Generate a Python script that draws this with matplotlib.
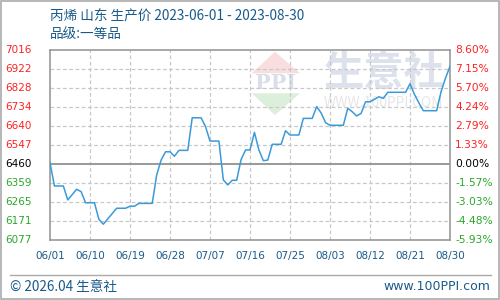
import matplotlib
matplotlib.use("Agg")
import matplotlib.pyplot as plt
import numpy as np
from matplotlib.patches import Polygon, Rectangle
from matplotlib.lines import Line2D

plt.rcParams['font.family'] = ['Noto Sans CJK SC', 'DejaVu Sans']

# ---- data ----
day_offsets = [0, 1, 3, 4, 6, 7, 8, 10, 11, 12, 15, 17, 18, 19, 20, 23, 24, 25, 26, 27,
               28, 29, 31, 32, 34, 35, 36, 38, 39, 40, 41, 42, 43, 44, 45, 46, 47, 48, 49, 50,
               52, 53, 54, 56, 57, 59, 60, 61, 62, 63, 66, 67, 68, 69, 70, 71, 72, 74, 75, 76,
               80, 81, 82, 83, 84, 87, 88, 89, 90]
prices = [6460, 6344, 6344, 6275, 6328, 6316, 6261, 6261, 6179, 6155, 6234, 6234, 6244, 6244,
          6258, 6258, 6398, 6472, 6513, 6513, 6491, 6520, 6520, 6681, 6681, 6637, 6566, 6566,
          6374, 6349, 6372, 6372, 6475, 6522, 6522, 6609, 6522, 6469, 6472, 6550, 6550, 6617,
          6596, 6596, 6678, 6678, 6736, 6705, 6657, 6644, 6644, 6728, 6711, 6690, 6703, 6760,
          6760, 6785, 6777, 6807, 6807, 6849, 6797, 6755, 6716, 6716, 6811, 6878, 6935]
x_tick_days = [0, 9, 18, 27, 36, 45, 54, 63, 72, 81, 90]
x_tick_labels = ["06/01", "06/10", "06/19", "06/28", "07/07", "07/16", "07/25",
                 "08/03", "08/12", "08/21", "08/30"]
y_min, y_max = 6077, 7016
left_labels = ["6077", "6171", "6265", "6359", "6460", "6547", "6640", "6734", "6828", "6922", "7016"]
right_labels = ["-5.93%", "-4.48%", "-3.03%", "-1.57%", "0.00%", "1.33%", "2.79%", "4.24%",
                "5.70%", "7.15%", "8.60%"]
base_index = 4
title = "丙烯 山东 生产价 2023-06-01 - 2023-08-30"
subtitle = "品级:一等品"

RED = "#ff2020"
GREEN = "#2aa82a"
BLUE_TXT = "#1a5a8a"
LINE = "#3a9ad9"

fig = plt.figure(figsize=(5, 3), dpi=100)
fig.patch.set_facecolor("white")
ax = fig.add_axes([0.1, 0.2, 0.8, 0.6333])

# watermark (in axes coords)
wm = dict(transform=ax.transAxes, zorder=0)
def ax_xy(px, py):
    return ((px - 50) / 400.0, (240 - py) / 190.0)
ax.add_patch(Polygon([ax_xy(275, 51.7), ax_xy(251.7, 73.3), ax_xy(300, 73.3)],
                     closed=True, facecolor="#f8dede", edgecolor="none", **wm))
ax.add_patch(Polygon([ax_xy(251.7, 93.3), ax_xy(300, 93.3), ax_xy(275, 115)],
                     closed=True, facecolor="#dcefdc", edgecolor="none", **wm))
ax.text(*ax_xy(275.5, 83), "PPI", ha="center", va="center", fontsize=15, fontweight="bold",
        family="DejaVu Serif", color="#d8deea", **wm)
ax.text(*ax_xy(384, 73), "生意社", ha="center", va="center", fontsize=29, fontweight="bold",
        color="#dde1ec", **wm)
ax.text(*ax_xy(383, 103), "WWW.100PPI.COM", ha="center", va="center", fontsize=10,
        color="#e6e6e6", **wm)

ticks = np.linspace(y_min, y_max, len(left_labels))
ax.plot(day_offsets, prices, color=LINE, lw=1.1, zorder=3)
ax.set_xlim(0, 90)
ax.set_ylim(y_min, y_max)
ax.set_xticks(x_tick_days)
ax.set_yticks(ticks)
for t in x_tick_days[1:-1]:
    ax.axvline(t, color="#c8c8c8", lw=0.9, ls=(0, (3, 2)), zorder=1)
for i, t in enumerate(ticks[1:-1], start=1):
    if i == base_index:
        ax.axhline(t, color="#999999", lw=1.4, zorder=2)
    else:
        ax.axhline(t, color="#c8c8c8", lw=0.9, ls=(0, (3, 2)), zorder=1)
ax.tick_params(length=0, labelleft=False, labelbottom=False)
for s in ax.spines.values():
    s.set_color("#999999")
    s.set_linewidth(1.2)

def col(i):
    if i > base_index:
        return RED
    if i < base_index:
        return GREEN
    return "black"

for i, t in enumerate(ticks):
    yfig = 1 - ((240 - (t - y_min) / (y_max - y_min) * 190) / 300.0)
    fig.text(5 / 500, yfig, left_labels[i], ha="left", va="center", fontsize=7.5,
             family="DejaVu Sans", color=col(i))
    fig.text(455 / 500, yfig, right_labels[i], ha="left", va="center", fontsize=7.7,
             family="DejaVu Sans", color=col(i))

for d, lab in zip(x_tick_days, x_tick_labels):
    fig.text((50 + d / 90 * 400) / 500, 1 - 256.5 / 300, lab, ha="center", va="center",
             fontsize=7.5, family="DejaVu Sans", color=BLUE_TXT)

fig.text(50 / 500, 1 - 17 / 300, title, ha="left", va="center", fontsize=9.8, color=BLUE_TXT)
fig.text(50 / 500, 1 - 34 / 300, subtitle, ha="left", va="center", fontsize=9.8, color=BLUE_TXT)

fig.add_artist(Line2D([10 / 500, 491 / 500], [1 - 275 / 300, 1 - 275 / 300],
                      color="#aaaaaa", lw=1.0))
fig.text(10 / 500, 1 - 286.5 / 300, "© 2026.04 生意社", ha="left", va="center",
         fontsize=9.8, color=BLUE_TXT)
fig.text(490 / 500, 1 - 286.5 / 300, "www.100PPI.com", ha="right", va="center",
         fontsize=9, family="DejaVu Sans", color=BLUE_TXT)
fig.add_artist(Rectangle((0.001, 0.002), 0.997, 0.996, transform=fig.transFigure,
                         fill=False, edgecolor="#aaaaaa", lw=1.2))

fig.savefig("out.png", dpi=100, facecolor="white")
